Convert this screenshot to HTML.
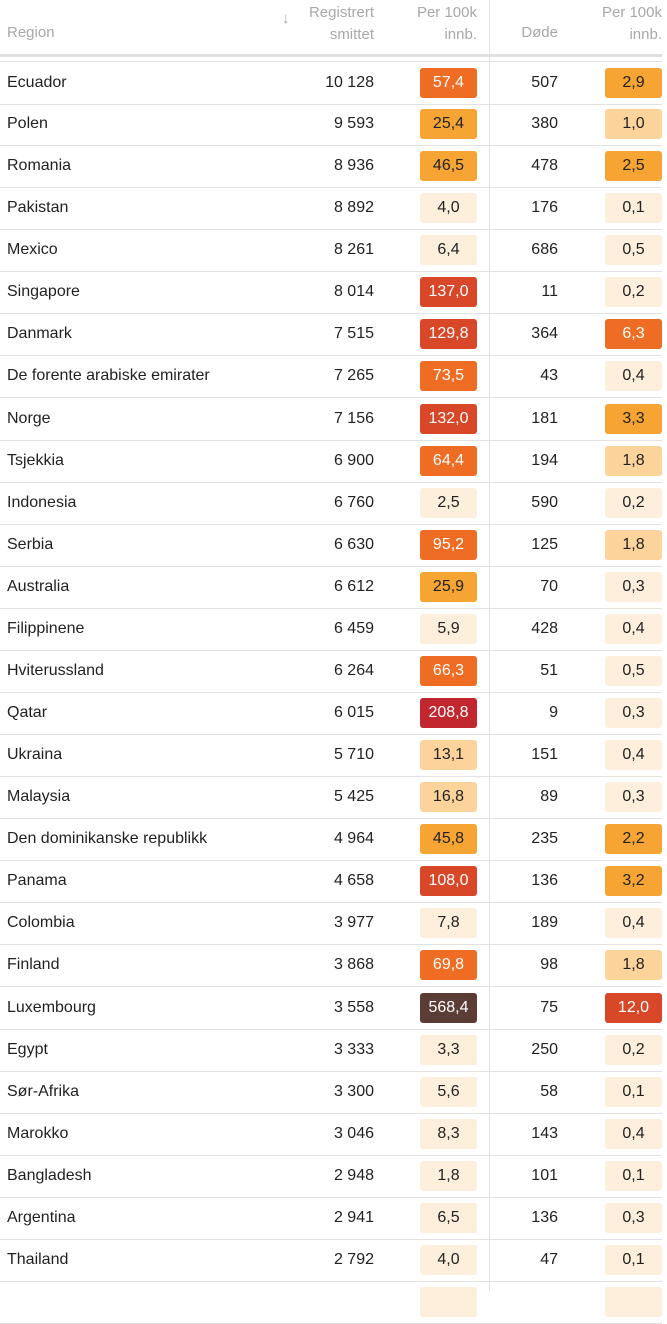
<!DOCTYPE html>
<html><head><meta charset="utf-8"><style>
body{margin:0;width:667px;height:1291px;overflow:hidden;background:#fff;font-family:"Liberation Sans",sans-serif;position:relative;color:#222}
.h{position:absolute;color:#a8a8a8;font-size:15px;line-height:22px}
.r{position:absolute;left:0;width:662px;height:42px;border-bottom:1px solid #e2e2e2;font-size:16px}
.r span{position:absolute;top:0;line-height:42px}
.n{left:7px}.a{right:288px}.d{right:104px}
.b{position:absolute;top:6px;width:57px;height:30px;line-height:30px;text-align:center;border-radius:3px}
.b1{left:420px}.b2{left:605px}
.c0{background:#fdefdb;color:#222}.c1{background:#fdd39c;color:#222}.c2{background:#f6a433;color:#222}
.c3{background:#ee6c23;color:#fff}.c4{background:#d84727;color:#fff}.c5{background:#c2262f;color:#fff}.c6{background:#5c3d35;color:#fff}
.vl{position:absolute;left:489px;top:0;width:1px;height:1291px;background:#e2e2e2}
</style></head><body>
<div class="vl"></div>
<div class="h" style="left:7px;top:22px">Region</div>
<div class="h" style="left:282px;top:8px">↓</div>
<div class="h" style="right:293px;top:2px;text-align:right">Registrert<br>smittet</div>
<div class="h" style="right:190px;top:2px;text-align:right">Per 100k<br>innb.</div>
<div class="h" style="right:109px;top:22px">Døde</div>
<div class="h" style="right:5px;top:2px;text-align:right">Per 100k<br>innb.</div>
<div style="position:absolute;left:0;top:54px;width:662px;height:3px;background:#e0e0e0"></div>
<div id="t"></div>
<script>
var d=[["Ecuador","10 128","57,4",3,"507","2,9",2],["Polen","9 593","25,4",2,"380","1,0",1],["Romania","8 936","46,5",2,"478","2,5",2],["Pakistan","8 892","4,0",0,"176","0,1",0],["Mexico","8 261","6,4",0,"686","0,5",0],["Singapore","8 014","137,0",4,"11","0,2",0],["Danmark","7 515","129,8",4,"364","6,3",3],["De forente arabiske emirater","7 265","73,5",3,"43","0,4",0],["Norge","7 156","132,0",4,"181","3,3",2],["Tsjekkia","6 900","64,4",3,"194","1,8",1],["Indonesia","6 760","2,5",0,"590","0,2",0],["Serbia","6 630","95,2",3,"125","1,8",1],["Australia","6 612","25,9",2,"70","0,3",0],["Filippinene","6 459","5,9",0,"428","0,4",0],["Hviterussland","6 264","66,3",3,"51","0,5",0],["Qatar","6 015","208,8",5,"9","0,3",0],["Ukraina","5 710","13,1",1,"151","0,4",0],["Malaysia","5 425","16,8",1,"89","0,3",0],["Den dominikanske republikk","4 964","45,8",2,"235","2,2",2],["Panama","4 658","108,0",4,"136","3,2",2],["Colombia","3 977","7,8",0,"189","0,4",0],["Finland","3 868","69,8",3,"98","1,8",1],["Luxembourg","3 558","568,4",6,"75","12,0",4],["Egypt","3 333","3,3",0,"250","0,2",0],["Sør-Afrika","3 300","5,6",0,"58","0,1",0],["Marokko","3 046","8,3",0,"143","0,4",0],["Bangladesh","2 948","1,8",0,"101","0,1",0],["Argentina","2 941","6,5",0,"136","0,3",0],["Thailand","2 792","4,0",0,"47","0,1",0],["","","",0,"","",0]];
var h='';d.forEach(function(r,i){var top=61+i*42.07;h+='<div class="r" style="top:'+top+'px;border-top:'+(i==0?'1px solid #e2e2e2':'0')+'"><span class="n">'+r[0]+'</span><span class="a">'+r[1]+'</span><div class="b b1 c'+r[3]+'">'+r[2]+'</div><span class="d">'+r[4]+'</span><div class="b b2 c'+r[6]+'">'+r[5]+'</div></div>';});
document.getElementById('t').innerHTML=h;
</script>
</body></html>
